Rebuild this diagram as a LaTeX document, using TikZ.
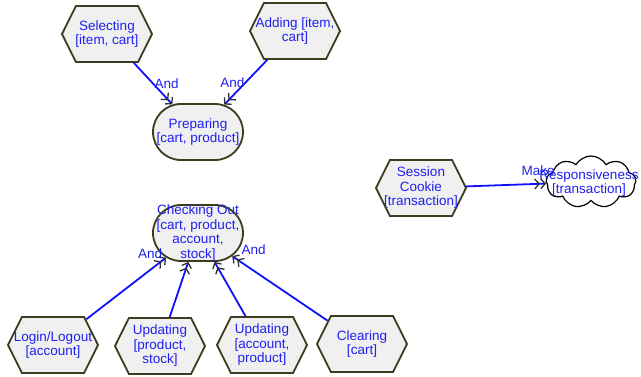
\documentclass[tikz,border=0pt]{standalone}
\usepackage{fontspec}
\setmainfont{Liberation Sans}
\usetikzlibrary{shapes.symbols,shapes.misc,arrows.meta}
\definecolor{txtblue}{HTML}{2020F0}
\definecolor{lnblue}{HTML}{1010FF}
\definecolor{bord}{HTML}{3C3C1E}
\definecolor{boxfill}{HTML}{F0F0F0}
\definecolor{tipc}{HTML}{303030}
\tikzset{
  lbl/.style={text=txtblue, font=\fontsize{13.5}{14.5}\selectfont, inner sep=0.5pt, align=center},
  base/.style={draw=bord, line width=1.8pt, fill=boxfill, inner sep=0pt},
  hexa/.style={base, signal, signal to=east and west, signal pointer angle=127,
    minimum width=90pt, minimum height=56pt},
  stadium/.style={base, rounded rectangle, minimum width=90pt, minimum height=56pt},
  cloudy/.style={cloud, cloud puffs=9, cloud puff arc=120, aspect=1.7, draw=black, line width=1.2pt,
    fill=white, minimum width=90pt, minimum height=52pt, inner sep=0pt},
  txt/.style={label={[lbl]center:#1}},
  conn/.style={draw=lnblue, line width=1.8pt,
    -{Straight Barb[length=4.5pt,width=10pt,line width=1.3pt,color=tipc]Straight Barb[length=4.5pt,width=10pt,line width=1.3pt,color=tipc]}},
}
\begin{document}
\begin{tikzpicture}[x=1pt,y=-1pt]
\useasboundingbox (0,0) rectangle (641,377);
\node[hexa, txt={Selecting\\\relax[item, cart]}] (sel) at (107,34) {};
\node[hexa, txt={Adding [item,\\cart]}] (add) at (295,31) {};
\node[stadium, txt={Preparing\\\relax[cart, product]}] (prep) at (198,132) {};
\node[hexa, txt={Session\\Cookie\\\relax[transaction]}] (sess) at (421,188) {};
\node[cloudy] (resp) at (591,182) {};
\node[lbl] (resptxt) at (589,183) {Responsiveness\\\relax[transaction]};
\node[stadium, txt={Checking Out\\\relax[cart, product,\\account,\\stock]}] (chk) at (198,233) {};
\node[hexa, txt={Login/Logout\\\relax[account]}] (login) at (53,345) {};
\node[hexa, txt={Updating\\\relax[product,\\stock]}] (upd1) at (160,346) {};
\node[hexa, txt={Updating\\\relax[account,\\product]}] (upd2) at (262,345) {};
\node[hexa, txt={Clearing\\\relax[cart]}] (clr) at (362,344) {};

\draw[conn] (sel) -- node[lbl, pos=0.5, anchor=west] (l1) {And} (prep);
\draw[conn] (add) -- node[lbl, pos=0.5, anchor=east] (l2) {And} (prep);
\draw[conn] (sess) -- node[lbl, pos=0.9, anchor=south, yshift=7pt] (l3) {Make} (resp);
\draw[conn] (login) -- node[lbl, pos=0.97, anchor=south east] (l4) {And} (chk);
\draw[conn] (upd1) -- (chk);
\draw[conn] (upd2) -- (chk);
\draw[conn] (clr) -- node[lbl, pos=1, anchor=south west, xshift=8pt] (l5) {And} (chk);
\end{tikzpicture}
\end{document}
